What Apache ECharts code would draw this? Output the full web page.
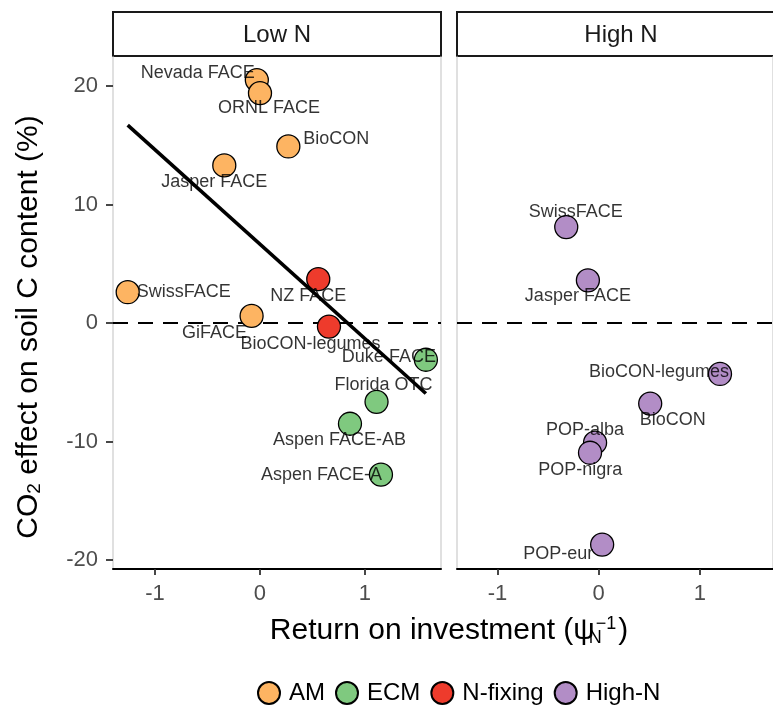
<!DOCTYPE html>
<html>
<head>
<meta charset="utf-8">
<script src="https://cdn.jsdelivr.net/npm/echarts@6/dist/echarts.min.js"></script>
<style>html,body{margin:0;padding:0;background:#fff;}#c{width:773px;height:707px;}</style>
</head>
<body>
<div id="c"></div>
<script>
// ---------- data ----------
const groups = ['AM', 'ECM', 'N-fixing', 'High-N'];
const panels = ['Low N', 'High N'];
const xTicks = [-1, 0, 1];
const yTicks = [-20, -10, 0, 10, 20];

const amSites = ['Nevada FACE', 'ORNL FACE', 'BioCON', 'Jasper FACE', 'SwissFACE', 'GiFACE'];
const amX = [-0.03, 0.0, 0.27, -0.34, -1.26, -0.08];
const amY = [20.5, 19.4, 14.9, 13.3, 2.6, 0.6];

const ecmSites = ['Duke FACE', 'Florida OTC', 'Aspen FACE-AB', 'Aspen FACE-A'];
const ecmX = [1.58, 1.11, 0.857, 1.152];
const ecmY = [-3.1, -6.65, -8.5, -12.8];

const nfixSites = ['NZ FACE', 'BioCON-legumes'];
const nfixX = [0.555, 0.657];
const nfixY = [3.7, -0.3];

const highSites = ['SwissFACE', 'Jasper FACE', 'BioCON-legumes', 'BioCON', 'POP-alba', 'POP-nigra', 'POP-eur'];
const highX = [-0.32, -0.106, 1.2, 0.51, -0.035, -0.085, 0.035];
const highY = [8.1, 3.6, -4.3, -6.8, -10.1, -10.95, -18.7];

// fitted line (Low N panel)
const fitX = [-1.26, 1.58];
const fitY = [16.7, -5.95];

// ---------- style ----------
const colors = { 'AM': '#FDB462', 'ECM': '#7FC97F', 'N-fixing': '#EE3B2C', 'High-N': '#B28DC6' };
// label offsets (px) relative to each point, repel-like placement
const amOff = [[-59, -7], [9, 15], [48, -7], [-10, 17], [56, 0], [-37, 17]];
const ecmOff = [[-37, -3], [7, -17], [-10.5, 16], [-59.5, 0.7]];
const nfixOff = [[-10, 17], [-18.5, 17.5]];
const highOff = [[9.5, -15], [-10, 16], [-61, -2.3], [22.5, 16.7], [-10, -13], [-9.7, 17.3], [-44, 9]];

const FONT = 'Liberation Sans, Arial, Helvetica, sans-serif';
const L = { top: 57, height: 512, width: 328, lefts: [113, 457], stripTop: 12, stripH: 44 };
const X_MIN = -1.4, X_MAX = 1.724, Y_MIN = -20.76, Y_MAX = 22.45;

const chart = echarts.init(document.getElementById('c'), null, { renderer: 'canvas' });

function pts(xs, ys) { return xs.map((x, i) => [x, ys[i]]); }

function pointSeries(name, xs, ys, gi, withZero) {
  const s = {
    name: name, type: 'scatter', xAxisIndex: gi, yAxisIndex: gi * 2,
    data: pts(xs, ys), symbol: 'circle', symbolSize: 23, z: 2,
    itemStyle: { color: colors[name], borderColor: '#000', borderWidth: 1.3, opacity: 1 },
    emphasis: { disabled: true }, silent: true
  };
  if (withZero) {
    s.markLine = {
      z: 1, silent: true, symbol: 'none', animation: false,
      label: { show: false },
      lineStyle: { color: '#000', width: 2.2, type: [15, 10] },
      data: [{ yAxis: 0 }]
    };
  }
  return s;
}

function labelSeries(name, sites, xs, ys, offs, gi) {
  return {
    name: name + '-labels', type: 'scatter', xAxisIndex: gi, yAxisIndex: gi * 2,
    symbol: 'circle', symbolSize: 1, z: 5, silent: true,
    itemStyle: { color: 'rgba(0,0,0,0)' },
    data: xs.map((x, i) => ({
      value: [x, ys[i]], name: sites[i],
      label: { offset: offs[i] }
    })),
    label: {
      show: true, position: 'inside', formatter: '{b}',
      fontFamily: FONT, fontSize: 18, color: '#000',
      align: 'center', verticalAlign: 'middle'
    }
  };
}

const grids = L.lefts.map(l => ({ left: l, top: L.top, width: L.width, height: L.height }));

const xAxes = [0, 1].map(i => ({
  type: 'value', gridIndex: i, min: X_MIN, max: X_MAX,
  splitLine: { show: false },
  axisLine: { show: true, onZero: false, lineStyle: { color: '#000', width: 2 } },
  axisTick: { show: true, customValues: xTicks, length: 6, lineStyle: { color: '#333', width: 1.8 } },
  axisLabel: { customValues: xTicks, margin: 14, fontFamily: FONT, fontSize: 22, color: '#4d4d4d' }
}));

const yAxes = [];
[0, 1].forEach(i => {
  yAxes.push({
    type: 'value', gridIndex: i, min: Y_MIN, max: Y_MAX, position: 'left',
    splitLine: { show: false },
    axisLine: { show: true, onZero: false, lineStyle: { color: '#d6d6d6', width: 1.5 } },
    axisTick: { show: i === 0, customValues: yTicks, length: 7, lineStyle: { color: '#333', width: 1.8 } },
    axisLabel: { show: i === 0, customValues: yTicks, margin: 15, fontFamily: FONT, fontSize: 22, color: '#4d4d4d' }
  });
  yAxes.push({
    type: 'value', gridIndex: i, min: Y_MIN, max: Y_MAX, position: 'right',
    splitLine: { show: false },
    axisLine: { show: true, onZero: false, lineStyle: { color: '#d6d6d6', width: 1.5 } },
    axisTick: { show: false }, axisLabel: { show: false }
  });
});

const series = [
  pointSeries('AM', amX, amY, 0, true),
  pointSeries('ECM', ecmX, ecmY, 0, false),
  pointSeries('N-fixing', nfixX, nfixY, 0, false),
  pointSeries('High-N', highX, highY, 1, true),
  {
    name: 'fit', type: 'line', xAxisIndex: 0, yAxisIndex: 0, data: pts(fitX, fitY),
    showSymbol: false, symbol: 'none', z: 3, silent: true,
    lineStyle: { color: '#000', width: 3.6 }
  },
  labelSeries('AM', amSites, amX, amY, amOff, 0),
  labelSeries('ECM', ecmSites, ecmX, ecmY, ecmOff, 0),
  labelSeries('N-fixing', nfixSites, nfixX, nfixY, nfixOff, 0),
  labelSeries('High-N', highSites, highX, highY, highOff, 1)
];

const graphics = [];
panels.forEach((p, i) => {
  graphics.push({
    type: 'rect', shape: { x: L.lefts[i], y: L.stripTop, width: L.width, height: L.stripH },
    style: { fill: '#fff', stroke: '#1a1a1a', lineWidth: 2 }, silent: true
  });
  graphics.push({
    type: 'text', x: L.lefts[i] + L.width / 2, y: L.stripTop + L.stripH / 2 + 1,
    style: { text: p, font: '24px ' + FONT, fill: '#1a1a1a', align: 'center', verticalAlign: 'middle' },
    silent: true
  });
});
// x-axis title, centred over both panels
graphics.push({
  type: 'text', x: (L.lefts[0] + L.lefts[1] + L.width) / 2, y: 631,
  style: {
    text: 'Return on investment (ψ{sub|N}{sup|−1})',
    font: '30px ' + FONT, fill: '#000', align: 'center', verticalAlign: 'middle',
    rich: {
      sub: { fontSize: 18, fontFamily: FONT, fill: '#000', verticalAlign: 'bottom', padding: [14, 0, 0, 0], width: 1 },
      sup: { fontSize: 18, fontFamily: FONT, fill: '#000', verticalAlign: 'top', padding: [0, 2, 14, 0] }
    }
  }, silent: true
});
// y-axis title
graphics.push({
  type: 'text', x: 29, y: 327, rotation: Math.PI / 2,
  style: {
    text: 'CO{sub|2} effect on soil C content (%)',
    font: '30px ' + FONT, fill: '#000', align: 'center', verticalAlign: 'middle',
    rich: { sub: { fontSize: 19, fontFamily: FONT, fill: '#000', verticalAlign: 'bottom', padding: [11, 0, 0, 0] } }
  }, silent: true
});

chart.setOption({
  animation: false,
  backgroundColor: '#fff',
  grid: grids,
  xAxis: xAxes,
  yAxis: yAxes,
  legend: {
    data: groups, left: 252, top: 676, icon: 'circle',
    itemWidth: 22, itemHeight: 22, itemGap: 10,
    textStyle: { fontFamily: FONT, fontSize: 24, color: '#000', padding: [0, 0, 0, 4] },
    selectedMode: false
  },
  graphic: graphics,
  series: series
});
</script>
</body>
</html>
